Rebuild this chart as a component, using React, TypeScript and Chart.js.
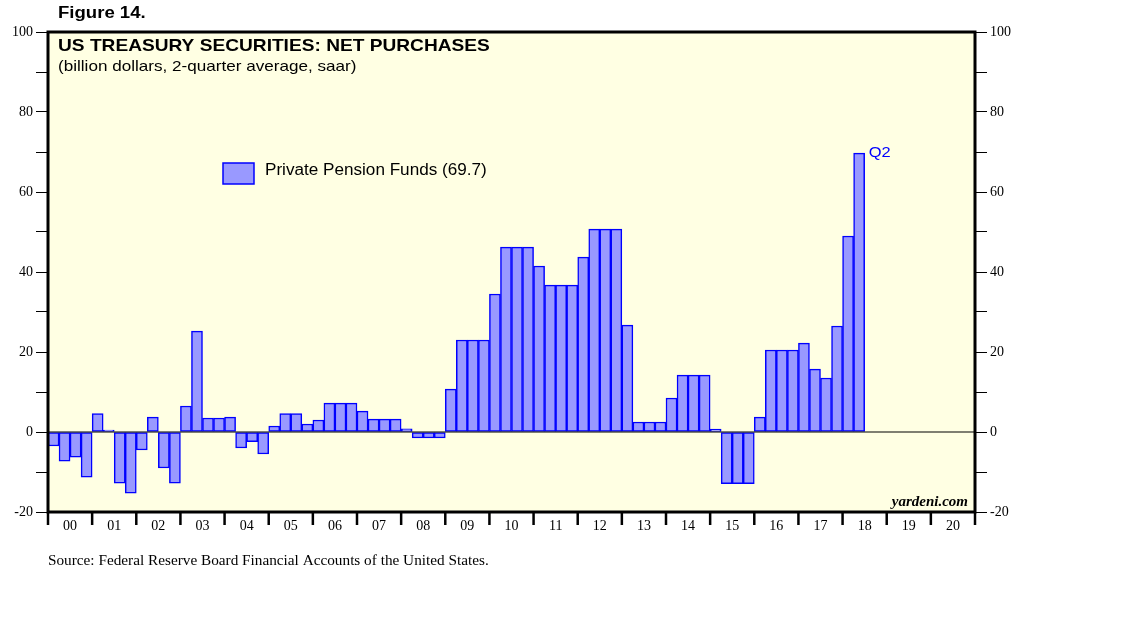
import React, { useEffect, useRef } from 'react';
import { Chart, registerables } from 'chart.js';

Chart.register(...registerables);

const yearLabels = ['00', '01', '02', '03', '04', '05', '06', '07', '08', '09', '10', '11', '12', '13', '14', '15', '16', '17', '18', '19', '20'];
const quarterNames = ['Q1', 'Q2', 'Q3', 'Q4'];
// Private pension funds, net purchases of US Treasury securities (billion $, 2-qtr avg, saar), 2000Q1..2018Q2
const netPurchases = [
  -3.5, -7.3, -6.3, -11.3,
  4.6, 0.5, -12.8, -15.3,
  -4.5, 3.7, -9.0, -12.8,
  6.5, 25.2, 3.5, 3.5,
  3.7, -4.0, -2.4, -5.5,
  1.5, 4.6, 4.6, 2.0,
  3.0, 7.2, 7.2, 7.2,
  5.2, 3.2, 3.2, 3.2,
  0.8, -1.5, -1.5, -1.5,
  10.7, 23.0, 23.0, 23.0,
  34.5, 46.2, 46.2, 46.2,
  41.5, 36.7, 36.7, 36.7,
  43.7, 50.7, 50.7, 50.7,
  26.7, 2.5, 2.5, 2.5,
  8.5, 14.2, 14.2, 14.2,
  0.7, -12.9, -12.9, -12.9,
  3.7, 20.5, 20.5, 20.5,
  22.2, 15.7, 13.5, 26.5,
  49.0, 69.7,
];
const yMin = -20;
const yMax = 100;
const yStep = 10;
const yLabelStep = 20;

const figureLabel = 'Figure 14.';
const titleText = 'US TREASURY SECURITIES: NET PURCHASES';
const subtitleText = '(billion dollars, 2-quarter average, saar)';
const legendLabel = 'Private Pension Funds (69.7)';
const lastQuarterLabel = 'Q2';
const watermark = 'yardeni.com';
const sourceText = 'Source: Federal Reserve Board Financial Accounts of the United States.';

const SANS = '"Liberation Sans", Arial, sans-serif';
const SERIF = '"Liberation Serif", "Times New Roman", serif';
const BAR_FILL = '#9999FF';
const BAR_EDGE = '#0000FF';
const PLOT_BG = '#FFFFE3';

const categories = yearLabels.flatMap((y) => quarterNames.map((q) => `${y} ${q}`));
const seriesData = categories.map((_, i) => (i < netPurchases.length ? netPurchases[i] : null));

function stretchText(ctx: CanvasRenderingContext2D, text: string, x: number, y: number, sx: number) {
  ctx.save();
  ctx.translate(x, y);
  ctx.scale(sx, 1);
  ctx.fillText(text, 0, 0);
  ctx.restore();
}

const decorPlugin = {
  id: 'decor',
  beforeDraw(chart: any) {
    const { ctx, chartArea } = chart;
    ctx.save();
    ctx.fillStyle = '#FFFFFF';
    ctx.fillRect(0, 0, chart.width, chart.height);
    ctx.fillStyle = PLOT_BG;
    ctx.fillRect(chartArea.left, chartArea.top, chartArea.right - chartArea.left, chartArea.bottom - chartArea.top);
    ctx.restore();
  },
  afterDatasetsDraw(chart: any) {
    const { ctx, chartArea, scales } = chart;
    const x = scales.x;
    const y = scales.y;
    const { left, right, top, bottom } = chartArea;
    ctx.save();

    // zero line
    const y0 = y.getPixelForValue(0);
    ctx.strokeStyle = '#000';
    ctx.lineWidth = 1.2;
    ctx.beginPath();
    ctx.moveTo(left, y0);
    ctx.lineTo(right, y0);
    ctx.stroke();

    // frame
    ctx.lineWidth = 3;
    ctx.strokeRect(left, top, right - left, bottom - top);

    // year ticks and labels
    const w = x.getPixelForValue(1) - x.getPixelForValue(0);
    const boundary = (k: number) => x.getPixelForValue(k * 4) - w / 2;
    ctx.lineWidth = 2.5;
    for (let k = 0; k <= yearLabels.length; k++) {
      const bx = boundary(k);
      ctx.beginPath();
      ctx.moveTo(bx, bottom);
      ctx.lineTo(bx, bottom + 13);
      ctx.stroke();
    }
    ctx.fillStyle = '#000';
    ctx.font = `14px ${SERIF}`;
    ctx.textAlign = 'center';
    ctx.textBaseline = 'middle';
    yearLabels.forEach((lab, k) => {
      const cx = (boundary(k) + boundary(k + 1)) / 2;
      ctx.fillText(lab, cx, bottom + 14);
    });

    // titles
    ctx.textAlign = 'left';
    ctx.textBaseline = 'alphabetic';
    ctx.font = `bold 16px ${SANS}`;
    stretchText(ctx, figureLabel, 58, 18, 1.16);
    ctx.font = `bold 17px ${SANS}`;
    stretchText(ctx, titleText, 58, 51, 1.125);
    ctx.font = `15px ${SANS}`;
    stretchText(ctx, subtitleText, 58, 71, 1.14);

    // legend
    ctx.fillStyle = BAR_FILL;
    ctx.fillRect(223, 163, 31, 21);
    ctx.strokeStyle = BAR_EDGE;
    ctx.lineWidth = 1.5;
    ctx.strokeRect(223, 163, 31, 21);
    ctx.fillStyle = '#000';
    ctx.font = `16px ${SANS}`;
    stretchText(ctx, legendLabel, 265, 175, 1.07);

    // last quarter label
    const lastIdx = netPurchases.length - 1;
    const lx = x.getPixelForValue(lastIdx) + w / 2 + 4;
    const ly = y.getPixelForValue(netPurchases[lastIdx]);
    ctx.fillStyle = BAR_EDGE;
    ctx.font = `15px ${SANS}`;
    ctx.textBaseline = 'middle';
    stretchText(ctx, lastQuarterLabel, lx, ly, 1.1);

    // watermark
    ctx.fillStyle = '#000';
    ctx.textAlign = 'right';
    ctx.textBaseline = 'alphabetic';
    ctx.font = `bold italic 15px ${SERIF}`;
    ctx.fillText(watermark, right - 7, bottom - 6);

    // source
    ctx.textAlign = 'left';
    ctx.textBaseline = 'middle';
    ctx.font = `14px ${SERIF}`;
    stretchText(ctx, sourceText, 48, 561, 1.09);

    ctx.restore();
  },
};

const yAxis = (position: 'left' | 'right', width: number) => ({
  type: 'linear' as const,
  position,
  min: yMin,
  max: yMax,
  ticks: {
    stepSize: yStep,
    autoSkip: false,
    color: '#000',
    padding: 3,
    font: { family: SERIF, size: 14 },
    callback: (v: any) => (Number(v) % yLabelStep === 0 ? String(v) : ''),
  },
  grid: { drawOnChartArea: false, drawTicks: true, tickLength: 12, color: '#000', lineWidth: 1 },
  border: { display: false },
  afterFit: (s: any) => {
    s.width = width;
  },
});

export default function App() {
  const canvasRef = useRef<HTMLCanvasElement | null>(null);

  useEffect(() => {
    if (!canvasRef.current) return;
    const chart = new Chart(canvasRef.current, {
      type: 'bar',
      data: {
        labels: categories,
        datasets: [
          {
            label: legendLabel,
            data: seriesData as any,
            backgroundColor: BAR_FILL,
            borderColor: BAR_EDGE,
            borderWidth: 1.5,
            borderSkipped: false,
            barPercentage: 1,
            categoryPercentage: 1,
            yAxisID: 'y',
          },
        ],
      },
      options: {
        responsive: false,
        animation: false,
        devicePixelRatio: 1,
        layout: { padding: { left: 0, right: 0, top: 32, bottom: 109 } },
        plugins: {
          legend: { display: false },
          tooltip: { enabled: false },
          title: { display: false },
        },
        scales: {
          x: { display: false, offset: true, grid: { offset: true } },
          y: yAxis('left', 48) as any,
          y2: yAxis('right', 163) as any,
        },
      },
      plugins: [decorPlugin],
    });
    return () => chart.destroy();
  }, []);

  return (
    <div style={{ position: 'absolute', left: 0, top: 0, width: 1138, height: 621, background: '#fff' }}>
      <canvas ref={canvasRef} width={1138} height={621} style={{ display: 'block', width: 1138, height: 621 }} />
    </div>
  );
}
